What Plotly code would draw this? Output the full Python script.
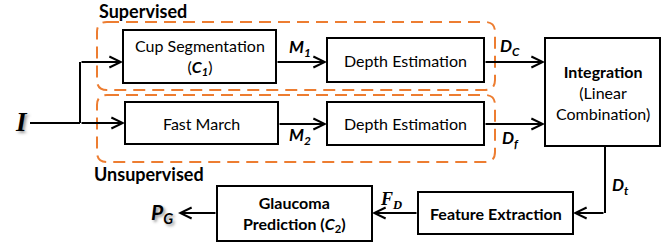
import plotly.graph_objects as go

# ---- diagram content ----
box_labels = ["Cup Segmentation<br>(<b><i>C<sub>1</sub></i></b>)", "Depth Estimation", "Fast March",
              "Depth Estimation", "<b>Integration</b><br>(Linear<br>Combination)",
              "<b>Feature Extraction</b>", "<b>Glaucoma<br>Prediction (<i>C</i><sub>2</sub>)</b>"]
group_labels = ["Supervised", "Unsupervised"]
edge_labels = ["<b><i>M<sub>1</sub></i></b>", "<b><i>M<sub>2</sub></i></b>", "<b><i>D<sub>C</sub></i></b>",
               "<b><i>D<sub>f</sub></i></b>", "<b><i>D<sub>t</sub></i></b>", "<b><i>F<sub>D</sub></i></b>",
               "<b><i>P<sub>G</sub></i></b>", "<b><i>I</i></b>"]

# ---- layout geometry (pixels) ----
boxes = [(123, 30, 276, 83), (327, 38, 484, 82), (125, 102, 278, 144),
         (327, 102, 484, 145), (545, 38, 660, 146), (418, 192, 573, 234), (217, 186, 372, 241)]
groups = [(97, 22, 495, 90), (97, 95, 495, 162)]
W, H = 661, 248
FONT = "Lato"
ORANGE = "#ED7D31"
SHADOW = "2px 2px 3px #999999"

fig = go.Figure()
shapes = []
annotations = []

def rounded(x0, y0, x1, y1, r=10):
    return (f"M{x0+r},{y0} L{x1-r},{y0} Q{x1},{y0} {x1},{y0+r} L{x1},{y1-r} Q{x1},{y1} {x1-r},{y1} "
            f"L{x0+r},{y1} Q{x0},{y1} {x0},{y1-r} L{x0},{y0+r} Q{x0},{y0} {x0+r},{y0} Z")

for (x0, y0, x1, y1) in groups:
    shapes.append(dict(type="path", path=rounded(x0, y0, x1, y1), xref="x", yref="y",
                       line=dict(color=ORANGE, width=2, dash="12px,7px"), layer="below"))

for lbl, (x0, y0, x1, y1) in zip(box_labels, boxes):
    shapes.append(dict(type="rect", x0=x0, y0=y0, x1=x1, y1=y1, xref="x", yref="y",
                       line=dict(color="black", width=2), fillcolor="white"))
    annotations.append(dict(x=(x0 + x1) / 2, y=(y0 + y1) / 2, text=lbl, showarrow=False,
                            font=dict(family=FONT, size=16, color="black"), xref="x", yref="y"))

# group labels
annotations.append(dict(x=97, y=11, text="<b>" + group_labels[0] + "</b>", showarrow=False, xanchor="left",
                        font=dict(family=FONT, size=18, color="black")))
annotations.append(dict(x=92, y=174, text="<b>" + group_labels[1] + "</b>", showarrow=False, xanchor="left",
                        font=dict(family=FONT, size=18, color="black")))

def arrow(x_from, y_from, x_to, y_to):
    annotations.append(dict(x=x_to, y=y_to, ax=x_from, ay=y_from, xref="x", yref="y",
                            axref="x", ayref="y", text="", showarrow=True, arrowhead=5,
                            arrowsize=1.1, arrowwidth=2, arrowcolor="black", standoff=0))

def line(x0, y0, x1, y1):
    shapes.append(dict(type="line", x0=x0, y0=y0, x1=x1, y1=y1, xref="x", yref="y",
                       line=dict(color="black", width=2)))

# input I
line(30, 123, 80, 123)
arrow(80, 123, 125, 123)
line(80, 123, 80, 62)
arrow(80, 62, 123, 62)
# M1, M2
arrow(276, 62, 327, 62)
arrow(278, 124, 327, 124)
# Dc, Df
arrow(484, 62, 545, 62)
arrow(484, 124, 545, 124)
# Dt
line(605, 146, 605, 213)
arrow(605, 213, 573, 213)
# FD
arrow(418, 213, 372, 213)
# PG
arrow(217, 213, 178, 213)

lab_font = dict(family=FONT, size=17, color="black")
annotations += [
    dict(x=300, y=48, text=edge_labels[0], showarrow=False, font=lab_font),
    dict(x=300, y=136, text=edge_labels[1], showarrow=False, font=lab_font),
    dict(x=510, y=47, text=edge_labels[2], showarrow=False, font=lab_font),
    dict(x=510, y=139, text=edge_labels[3], showarrow=False, font=lab_font),
    dict(x=620, y=186, text=edge_labels[4], showarrow=False, font=lab_font),
    dict(x=391, y=200, text=edge_labels[5], showarrow=False,
         font=dict(family="Liberation Serif", size=18, color="black")),
    dict(x=162, y=213, text=edge_labels[6], showarrow=False,
         font=dict(family=FONT, size=21, color="black", shadow=SHADOW)),
    dict(x=21, y=122, text=edge_labels[7], showarrow=False,
         font=dict(family="Liberation Serif", size=27, color="black", shadow=SHADOW)),
]

fig.update_layout(
    width=W, height=H, margin=dict(l=0, r=0, t=0, b=0),
    paper_bgcolor="white", plot_bgcolor="white",
    xaxis=dict(range=[0, W], visible=False, fixedrange=True),
    yaxis=dict(range=[H, 0], visible=False, fixedrange=True),
    shapes=shapes, annotations=annotations, showlegend=False,
)
fig.write_html("out.html", config={"displayModeBar": False},
               post_script="document.body.style.margin='0';document.body.style.overflow='hidden';")
